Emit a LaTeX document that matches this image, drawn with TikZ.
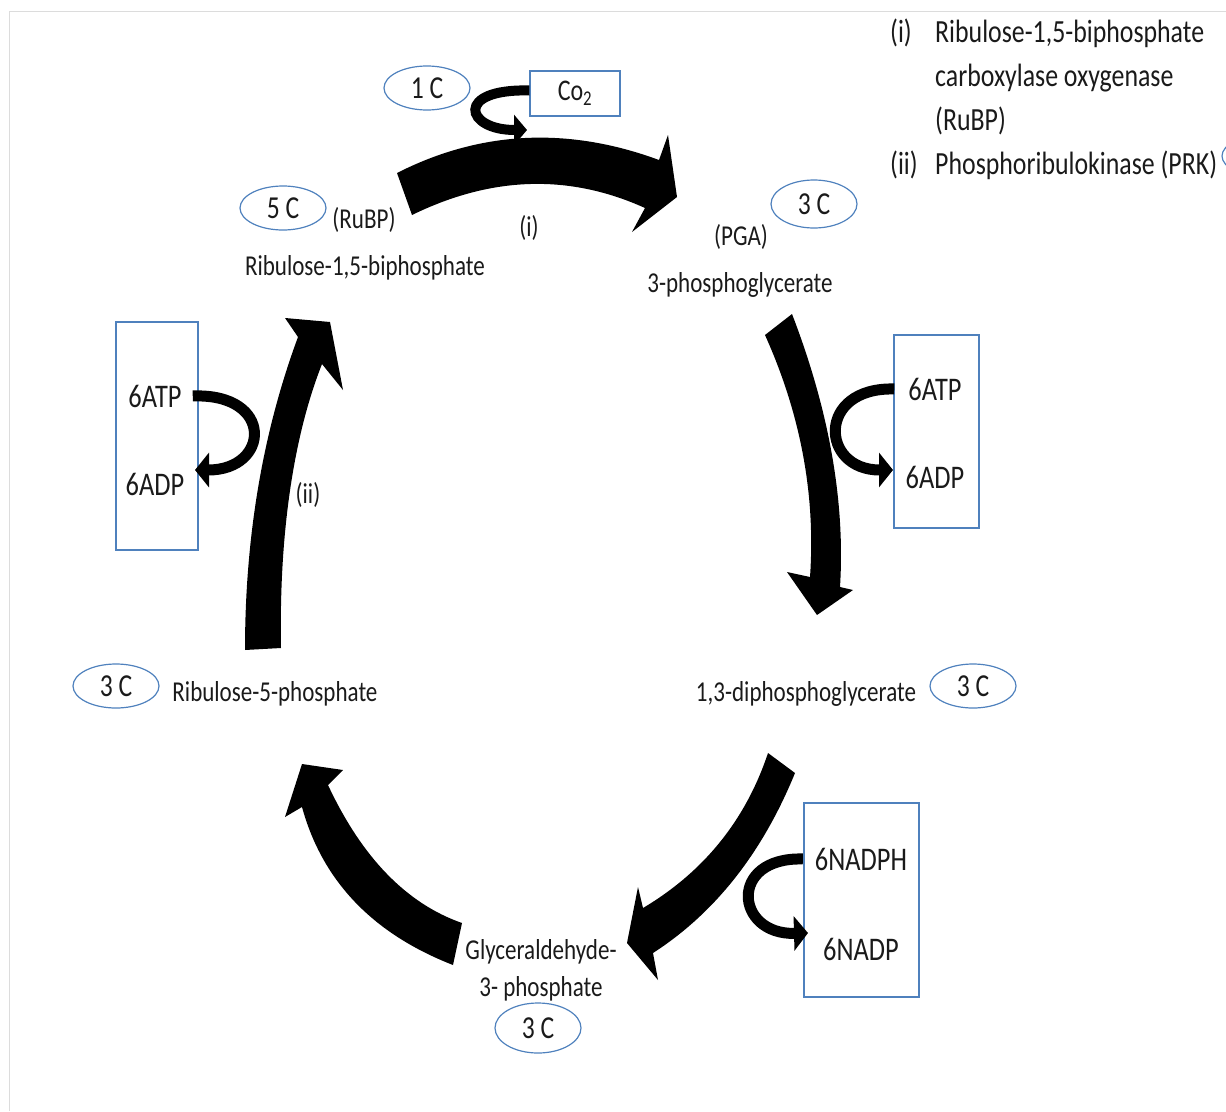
\documentclass[tikz,border=0pt]{standalone}
\usepackage{fontspec}
\setmainfont{Carlito}[FakeStretch=0.8]
\usetikzlibrary{shapes.geometric,arrows.meta}
\definecolor{obl}{HTML}{4F81BD}
\definecolor{txt}{HTML}{1A1A1A}
\definecolor{framec}{HTML}{DCDCDC}
\begin{document}
\begin{tikzpicture}[x=1pt,y=-1pt,
 lbl/.style={font=\fontsize{28.8}{34}\selectfont, text=txt, inner sep=0pt},
 boxlbl/.style={font=\fontsize{33}{38}\selectfont, text=txt, inner sep=0pt},
 leg/.style={font=\fontsize{32.3}{38}\selectfont, text=txt, inner sep=0pt, anchor=base west},
 cnode/.style={ellipse, draw=obl, line width=1.2pt, minimum width=86pt, minimum height=44pt, inner sep=0pt, font=\fontsize{32}{38}\selectfont, text=txt},
 bluebox/.style={rectangle, draw=obl, line width=1.2pt, inner sep=0pt},
 bigarrow/.style={fill=black},
 smallarrow/.style={draw=black, line width=11pt, -{Triangle[length=14pt,width=34pt]}}
]
\useasboundingbox (0,0) rectangle (1226,1111);
\draw[framec, line width=1pt] (9,1111) -- (9,11) -- (1226,11);

% legend
\node[leg] (li) at (890,42) {(i)};
\node[leg] (l1) at (935,42) {Ribulose-1,5-biphosphate};
\node[leg] (l2) at (935,86) {carboxylase oxygenase};
\node[leg] (l3) at (935,130) {(RuBP)};
\node[leg] (lii) at (890,174) {(ii)};
\node[leg] (l4) at (935,174) {Phosphoribulokinase (PRK)};
\draw[obl, line width=1.2pt] (1266,156) ellipse [x radius=44, y radius=21];

% carbon ellipses
\node[cnode] (c1) at (427,88) {1 C};
\node[cnode] (c5) at (283,208) {5 C};
\node[cnode, minimum height=48pt] (c3a) at (814,204) {3 C};
\node[cnode] (c3b) at (116,686) {3 C};
\node[cnode] (c3c) at (973,686) {3 C};
\node[cnode, minimum height=50pt] (c3d) at (538,1028) {3 C};

% labels
\node[lbl, anchor=base] (rubp) at (365,275) {Ribulose-1,5-biphosphate};
\node[lbl, anchor=base] (rubpab) at (364,228) {(RuBP)};
\node[lbl] (en1) at (529,228) {(i)};
\node[lbl, anchor=base] (pgaab) at (741,245) {(PGA)};
\node[lbl, anchor=base] (pga) at (740,292) {3-phosphoglycerate};
\node[lbl, anchor=base] (r5p) at (275,701) {Ribulose-5-phosphate};
\node[lbl, anchor=base] (dpg) at (806,701) {1,3-diphosphoglycerate};
\node[lbl, anchor=base] (g3pa) at (541,959) {Glyceraldehyde-};
\node[lbl, anchor=base] (g3pb) at (541,996) {3- phosphate};
\node[lbl] (en2) at (308,495) {(ii)};

% boxes
\node[bluebox, minimum width=90pt, minimum height=45pt, font=\fontsize{30}{36}\selectfont, text=txt] (co2) at (575,93.5) {Co\textsubscript{2}};
\node[bluebox, minimum width=82pt, minimum height=228pt] (boxL) at (157,436) {};
\node[bluebox, minimum width=85pt, minimum height=193pt] (boxR) at (936.5,431.5) {};
\node[bluebox, minimum width=115pt, minimum height=194pt] (boxN) at (861.5,900) {};
\node[boxlbl, anchor=base] (atpL) at (155,407) {6ATP};
\node[boxlbl, anchor=base] (adpL) at (155,495) {6ADP};
\node[boxlbl, anchor=base] (atpR) at (935,400) {6ATP};
\node[boxlbl, anchor=base] (adpR) at (935,488) {6ADP};
\node[boxlbl, anchor=base] (nadph) at (861,870) {6NADPH};
\node[boxlbl, anchor=base] (nadp) at (861,960) {6NADP};

% small arrows
\coordinate (tipC) at (527,130);
\coordinate (tipL) at (195,470);
\coordinate (tipR) at (893,470);
\coordinate (tipN) at (808,933);
\draw[smallarrow, line width=10pt, -{Triangle[length=13pt,width=30pt]}] ([yshift=3pt]co2.west) .. controls +(-75,-2) and +(-62,0) .. (tipC);
\draw[smallarrow] ([xshift=11pt]atpL.east) .. controls +(82,-3) and +(75,0) .. (tipL);
\draw[smallarrow] ([xshift=-14pt]atpR.west) .. controls +(-78,-2) and +(-73,0) .. (tipR);
\draw[smallarrow] ([xshift=-12pt]nadph.west) .. controls +(-75,-2) and +(-73,2) .. (tipN);

% big cycle arrows
% (i): RuBP -> PGA
\fill[bigarrow] (397,173) .. controls (480.3,130.7) and (567.7,126.3) .. (659,160)
  -- (668,135) -- (677,197) -- (632,232) -- (645,208)
  .. controls (569.3,173.7) and (491.7,176) .. (412,215) -- cycle;
% PGA -> 1,3-DPG
\fill[bigarrow] (765,335) .. controls (800.7,414.3) and (815.7,495) .. (810,577)
  -- (787,572) -- (817,615) -- (853,590) -- (840,587)
  .. controls (845.3,502) and (829.3,411) .. (792,314) -- cycle;
% 1,3-DPG -> G3P
\fill[bigarrow] (768,753) .. controls (745.7,820) and (704,871.7) .. (643,908)
  -- (638,887) -- (627,943) -- (658,980) -- (653,953)
  .. controls (715,913) and (762.3,853) .. (795,773) -- cycle;
% G3P -> Ru5P
\fill[bigarrow] (462,923) .. controls (406.7,903.7) and (362,857.7) .. (328,785)
  -- (343,770) -- (302,764) -- (285,817) -- (302,807)
  .. controls (322.3,881) and (372.7,933.7) .. (453,965) -- cycle;
% (ii): Ru5P -> RuBP
\fill[bigarrow] (245,650) .. controls (245,536.7) and (262.7,432.3) .. (298,337)
  -- (285,318) -- (330,322) -- (343,390) -- (322,364)
  .. controls (292,440) and (279,540) .. (281,648) -- cycle;
\end{tikzpicture}
\end{document}
